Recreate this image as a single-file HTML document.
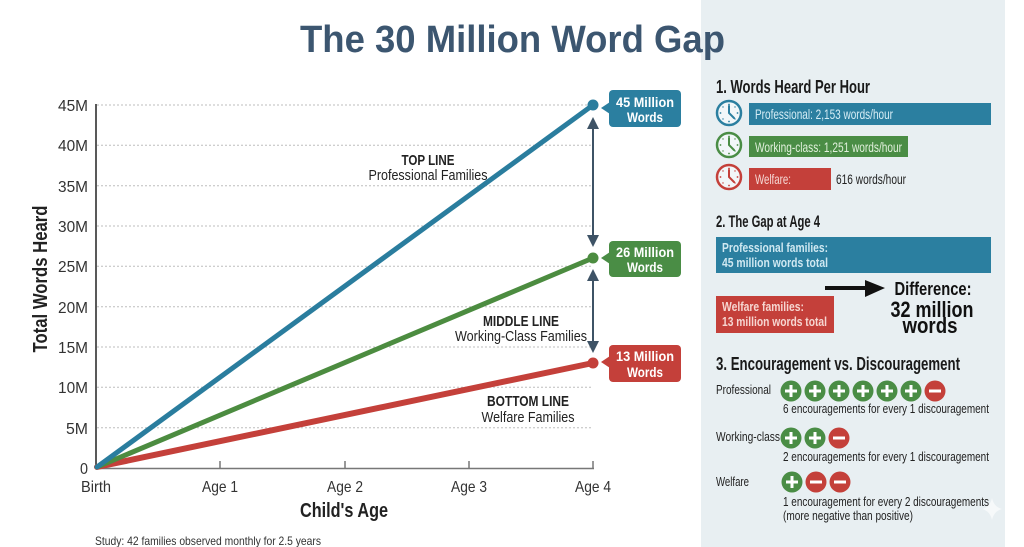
<!DOCTYPE html>
<html><head><meta charset="utf-8"><style>
html,body{margin:0;padding:0;background:#fff;}
svg{display:block;}
text{font-family:"Liberation Sans",sans-serif;}
</style></head><body>
<svg width="1024" height="547" viewBox="0 0 1024 547" xmlns="http://www.w3.org/2000/svg">
<rect x="0" y="0" width="1024" height="547" fill="#ffffff"/>
<rect x="701" y="0" width="304" height="547" fill="#e8eff2"/>

<!-- Title -->
<text x="300" y="52" font-size="38" font-weight="bold" fill="#3c5670" textLength="425" lengthAdjust="spacingAndGlyphs">The 30 Million Word Gap</text>

<!-- gridlines -->
<g stroke="#bdbdbd" stroke-width="1" stroke-dasharray="2,2">
<line x1="97" y1="105" x2="593" y2="105"/>
<line x1="97" y1="145.3" x2="593" y2="145.3"/>
<line x1="97" y1="185.7" x2="593" y2="185.7"/>
<line x1="97" y1="226" x2="593" y2="226"/>
<line x1="97" y1="266.3" x2="593" y2="266.3"/>
<line x1="97" y1="306.7" x2="593" y2="306.7"/>
<line x1="97" y1="347" x2="593" y2="347"/>
<line x1="97" y1="387.3" x2="593" y2="387.3"/>
<line x1="97" y1="427.7" x2="593" y2="427.7"/>
</g>

<!-- axes -->
<line x1="96" y1="104" x2="96" y2="469" stroke="#222" stroke-width="1.5"/>
<line x1="96" y1="468.5" x2="594" y2="468.5" stroke="#777" stroke-width="1.5"/>
<g stroke="#777" stroke-width="1.5">
<line x1="220" y1="461" x2="220" y2="468"/>
<line x1="345" y1="461" x2="345" y2="468"/>
<line x1="469" y1="461" x2="469" y2="468"/>
<line x1="593" y1="461" x2="593" y2="468"/>
</g>

<!-- y tick labels -->
<g font-size="16" fill="#333" text-anchor="end">
<text x="88" y="111" textLength="30" lengthAdjust="spacingAndGlyphs">45M</text>
<text x="88" y="151" textLength="30" lengthAdjust="spacingAndGlyphs">40M</text>
<text x="88" y="192" textLength="30" lengthAdjust="spacingAndGlyphs">35M</text>
<text x="88" y="232" textLength="30" lengthAdjust="spacingAndGlyphs">30M</text>
<text x="88" y="272" textLength="30" lengthAdjust="spacingAndGlyphs">25M</text>
<text x="88" y="313" textLength="30" lengthAdjust="spacingAndGlyphs">20M</text>
<text x="88" y="353" textLength="30" lengthAdjust="spacingAndGlyphs">15M</text>
<text x="88" y="393" textLength="30" lengthAdjust="spacingAndGlyphs">10M</text>
<text x="88" y="434" textLength="22" lengthAdjust="spacingAndGlyphs">5M</text>
<text x="88" y="474" textLength="8" lengthAdjust="spacingAndGlyphs">0</text>
</g>

<!-- y axis title -->
<text transform="translate(47,279) rotate(-90)" text-anchor="middle" font-size="20" font-weight="bold" fill="#222" textLength="147" lengthAdjust="spacingAndGlyphs">Total Words Heard</text>

<!-- x labels -->
<g font-size="16" fill="#333" text-anchor="middle">
<text x="96" y="492" textLength="30" lengthAdjust="spacingAndGlyphs">Birth</text>
<text x="220" y="492" textLength="36" lengthAdjust="spacingAndGlyphs">Age 1</text>
<text x="345" y="492" textLength="36" lengthAdjust="spacingAndGlyphs">Age 2</text>
<text x="469" y="492" textLength="36" lengthAdjust="spacingAndGlyphs">Age 3</text>
<text x="593" y="492" textLength="36" lengthAdjust="spacingAndGlyphs">Age 4</text>
</g>
<text x="344" y="517" text-anchor="middle" font-size="20" font-weight="bold" fill="#222" textLength="88" lengthAdjust="spacingAndGlyphs">Child's Age</text>
<text x="95" y="545" font-size="12" fill="#333" textLength="226" lengthAdjust="spacingAndGlyphs">Study: 42 families observed monthly for 2.5 years</text>

<!-- series lines -->
<line x1="97" y1="467" x2="593" y2="363" stroke="#c4403a" stroke-width="6" stroke-linecap="round"/>
<line x1="97" y1="467" x2="593" y2="258" stroke="#4c8c40" stroke-width="5" stroke-linecap="round"/>
<line x1="97" y1="467" x2="593" y2="105" stroke="#2a7d9e" stroke-width="5" stroke-linecap="round"/>
<circle cx="593" cy="105" r="5.5" fill="#2a7d9e"/>
<circle cx="593" cy="258" r="5.5" fill="#4c8c40"/>
<circle cx="593" cy="363" r="5.5" fill="#c4403a"/>

<!-- double arrows -->
<g stroke="#3e5366" stroke-width="2">
<line x1="593" y1="125" x2="593" y2="240"/>
<line x1="593" y1="277" x2="593" y2="346"/>
</g>
<g fill="#3e5366">
<polygon points="593,117 587,129 599,129"/>
<polygon points="593,247 587,235 599,235"/>
<polygon points="593,269 587,281 599,281"/>
<polygon points="593,353 587,341 599,341"/>
</g>

<!-- callout boxes -->
<g>
<rect x="609" y="90" width="72" height="37" rx="4" fill="#2b7fa0"/>
<polygon points="601,108 610,102 610,114" fill="#2b7fa0"/>
<text x="645" y="107" text-anchor="middle" font-size="14" font-weight="bold" fill="#fff" textLength="58" lengthAdjust="spacingAndGlyphs">45 Million</text>
<text x="645" y="122" text-anchor="middle" font-size="14" font-weight="bold" fill="#fff" textLength="36" lengthAdjust="spacingAndGlyphs">Words</text>

<rect x="609" y="241" width="72" height="36" rx="4" fill="#4a8d45"/>
<polygon points="601,258 610,252 610,264" fill="#4a8d45"/>
<text x="645" y="257" text-anchor="middle" font-size="14" font-weight="bold" fill="#fff" textLength="58" lengthAdjust="spacingAndGlyphs">26 Million</text>
<text x="645" y="272" text-anchor="middle" font-size="14" font-weight="bold" fill="#fff" textLength="36" lengthAdjust="spacingAndGlyphs">Words</text>

<rect x="609" y="345" width="72" height="37" rx="4" fill="#c4403a"/>
<polygon points="601,362 610,356 610,368" fill="#c4403a"/>
<text x="645" y="361" text-anchor="middle" font-size="14" font-weight="bold" fill="#fff" textLength="58" lengthAdjust="spacingAndGlyphs">13 Million</text>
<text x="645" y="377" text-anchor="middle" font-size="14" font-weight="bold" fill="#fff" textLength="36" lengthAdjust="spacingAndGlyphs">Words</text>
</g>

<!-- annotations -->
<g text-anchor="middle" fill="#222">
<text x="428" y="165" font-size="15" font-weight="bold" textLength="53" lengthAdjust="spacingAndGlyphs">TOP LINE</text>
<text x="428" y="180" font-size="15" textLength="119" lengthAdjust="spacingAndGlyphs">Professional Families</text>
<text x="521" y="326" font-size="15" font-weight="bold" textLength="76" lengthAdjust="spacingAndGlyphs">MIDDLE LINE</text>
<text x="521" y="341" font-size="15" textLength="132" lengthAdjust="spacingAndGlyphs">Working-Class Families</text>
<text x="528" y="406" font-size="15" font-weight="bold" textLength="82" lengthAdjust="spacingAndGlyphs">BOTTOM LINE</text>
<text x="528" y="422" font-size="15" textLength="93" lengthAdjust="spacingAndGlyphs">Welfare Families</text>
</g>

<!-- PANEL section 1 -->
<text x="716" y="93" font-size="18" font-weight="bold" fill="#1a1a1a" textLength="154" lengthAdjust="spacingAndGlyphs">1. Words Heard Per Hour</text>

<!-- clocks -->
<g>
<g transform="translate(729,113)">
<circle r="12" fill="#f2f7f9" stroke="#2b7fa0" stroke-width="2.5"/>
<g fill="#2b7fa0"><circle cx="0" cy="-8.5" r="0.9"/><circle cx="8.5" cy="0" r="0.9"/><circle cx="0" cy="8.5" r="0.9"/><circle cx="-8.5" cy="0" r="0.9"/><circle cx="6" cy="-6" r="0.7"/><circle cx="6" cy="6" r="0.7"/><circle cx="-6" cy="6" r="0.7"/><circle cx="-6" cy="-6" r="0.7"/></g>
<polyline points="0,-7 0,0 5,5" fill="none" stroke="#2b7fa0" stroke-width="2" stroke-linecap="round"/>
</g>
<g transform="translate(729,145)">
<circle r="12" fill="#f2f7f9" stroke="#4a8d45" stroke-width="2.5"/>
<g fill="#4a8d45"><circle cx="0" cy="-8.5" r="0.9"/><circle cx="8.5" cy="0" r="0.9"/><circle cx="0" cy="8.5" r="0.9"/><circle cx="-8.5" cy="0" r="0.9"/><circle cx="6" cy="-6" r="0.7"/><circle cx="6" cy="6" r="0.7"/><circle cx="-6" cy="6" r="0.7"/><circle cx="-6" cy="-6" r="0.7"/></g>
<polyline points="0,-7 0,0 5,5" fill="none" stroke="#4a8d45" stroke-width="2" stroke-linecap="round"/>
</g>
<g transform="translate(729,177)">
<circle r="12" fill="#f2f7f9" stroke="#c4403a" stroke-width="2.5"/>
<g fill="#c4403a"><circle cx="0" cy="-8.5" r="0.9"/><circle cx="8.5" cy="0" r="0.9"/><circle cx="0" cy="8.5" r="0.9"/><circle cx="-8.5" cy="0" r="0.9"/><circle cx="6" cy="-6" r="0.7"/><circle cx="6" cy="6" r="0.7"/><circle cx="-6" cy="6" r="0.7"/><circle cx="-6" cy="-6" r="0.7"/></g>
<polyline points="0,-7 0,0 5,5" fill="none" stroke="#c4403a" stroke-width="2" stroke-linecap="round"/>
</g>
</g>

<!-- bars -->
<rect x="749" y="103" width="242" height="22" fill="#2b7fa0"/>
<text x="755" y="119" font-size="14" fill="#d6edf5" textLength="138" lengthAdjust="spacingAndGlyphs">Professional: 2,153 words/hour</text>
<rect x="749" y="136" width="159" height="21" fill="#4a8d45"/>
<text x="755" y="152" font-size="14" fill="#e1f0dc" textLength="147" lengthAdjust="spacingAndGlyphs">Working-class: 1,251 words/hour</text>
<rect x="749" y="168" width="82" height="22" fill="#c4403a"/>
<text x="755" y="184" font-size="14" fill="#f5d8d4" textLength="36" lengthAdjust="spacingAndGlyphs">Welfare:</text>
<text x="836" y="184" font-size="14" fill="#222" textLength="70" lengthAdjust="spacingAndGlyphs">616 words/hour</text>

<!-- section 2 -->
<text x="716" y="227" font-size="17" font-weight="bold" fill="#1a1a1a" textLength="104" lengthAdjust="spacingAndGlyphs">2. The Gap at Age 4</text>
<rect x="716" y="237" width="275" height="36" fill="#2b7fa0"/>
<text x="722" y="252" font-size="13" font-weight="bold" fill="#cfe8f1" textLength="106" lengthAdjust="spacingAndGlyphs">Professional families:</text>
<text x="722" y="267" font-size="13" font-weight="bold" fill="#cfe8f1" textLength="106" lengthAdjust="spacingAndGlyphs">45 million words total</text>
<rect x="716" y="296" width="118" height="37" fill="#c4403a"/>
<text x="722" y="311" font-size="13" font-weight="bold" fill="#f6d6d1" textLength="82" lengthAdjust="spacingAndGlyphs">Welfare families:</text>
<text x="722" y="326" font-size="13" font-weight="bold" fill="#f6d6d1" textLength="105" lengthAdjust="spacingAndGlyphs">13 million words total</text>
<line x1="825" y1="288" x2="868" y2="288" stroke="#111" stroke-width="4"/>
<polygon points="885,288 865,280 865,297" fill="#111"/>
<text x="933" y="295" text-anchor="middle" font-size="18" font-weight="bold" fill="#111" textLength="77" lengthAdjust="spacingAndGlyphs">Difference:</text>
<text x="932" y="317" text-anchor="middle" font-size="22" font-weight="bold" fill="#111" textLength="83" lengthAdjust="spacingAndGlyphs">32 million</text>
<text x="930" y="333" text-anchor="middle" font-size="22" font-weight="bold" fill="#111" textLength="55" lengthAdjust="spacingAndGlyphs">words</text>

<!-- section 3 -->
<text x="716" y="370" font-size="18" font-weight="bold" fill="#1a1a1a" textLength="244" lengthAdjust="spacingAndGlyphs">3. Encouragement vs. Discouragement</text>

<defs>
<g id="plus"><circle r="10.5" fill="#4a8d45"/><path d="M-6,0H6M0,-6V6" stroke="#fff" stroke-width="3"/></g>
<g id="minus"><circle r="10.5" fill="#c4403a"/><path d="M-6,0H6" stroke="#fff" stroke-width="3"/></g>
</defs>
<text x="716" y="394" font-size="13" fill="#222" textLength="55" lengthAdjust="spacingAndGlyphs">Professional</text>
<use href="#plus" x="791" y="391"/>
<use href="#plus" x="815" y="391"/>
<use href="#plus" x="839" y="391"/>
<use href="#plus" x="863" y="391"/>
<use href="#plus" x="887" y="391"/>
<use href="#plus" x="911" y="391"/>
<use href="#minus" x="935" y="391"/>
<text x="783" y="413" font-size="13" fill="#222" textLength="206" lengthAdjust="spacingAndGlyphs">6 encouragements for every 1 discouragement</text>

<text x="716" y="441" font-size="13" fill="#222" textLength="64" lengthAdjust="spacingAndGlyphs">Working-class</text>
<use href="#plus" x="791" y="438"/>
<use href="#plus" x="815" y="438"/>
<use href="#minus" x="839" y="438"/>
<text x="783" y="461" font-size="13" fill="#222" textLength="206" lengthAdjust="spacingAndGlyphs">2 encouragements for every 1 discouragement</text>

<text x="716" y="486" font-size="13" fill="#222" textLength="33" lengthAdjust="spacingAndGlyphs">Welfare</text>
<use href="#plus" x="792" y="482"/>
<use href="#minus" x="816" y="482"/>
<use href="#minus" x="840" y="482"/>
<text x="783" y="506" font-size="13" fill="#222" textLength="206" lengthAdjust="spacingAndGlyphs">1 encouragement for every 2 discouragements</text>
<text x="783" y="520" font-size="13" fill="#222" textLength="130" lengthAdjust="spacingAndGlyphs">(more negative than positive)</text>

<!-- sparkle -->
<path d="M992,498 Q994,507 1002,509 Q994,511 992,520 Q990,511 982,509 Q990,507 992,498Z" fill="#ffffff" opacity="0.6"/>
</svg>
</body></html>
